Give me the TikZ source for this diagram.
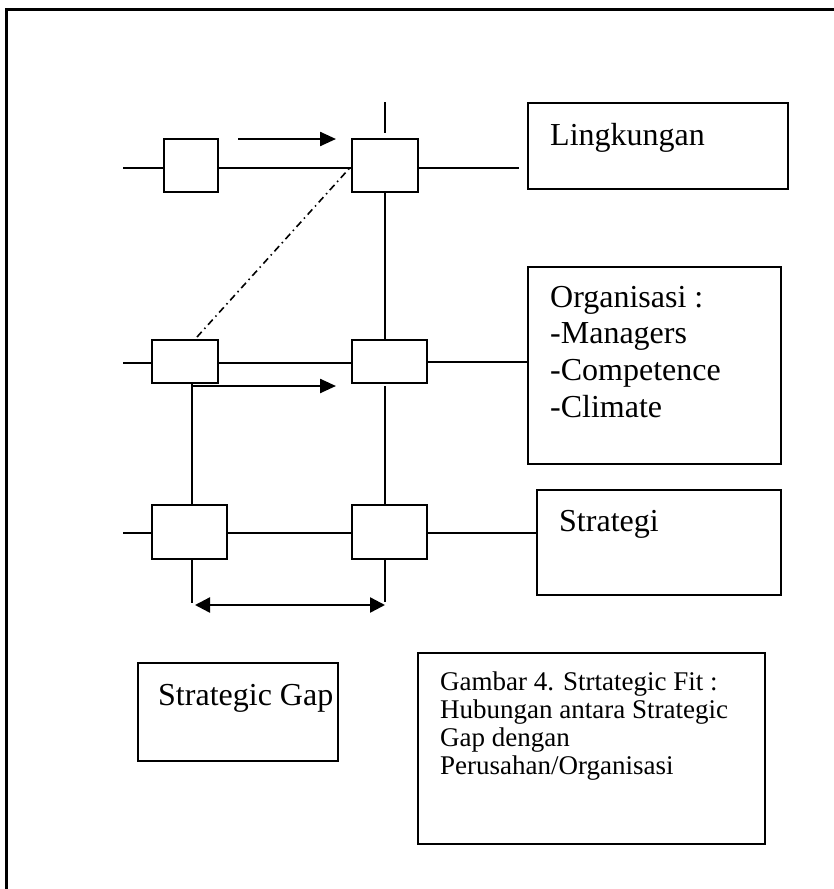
\documentclass[tikz,border=0pt]{standalone}
\usepackage{fontspec}
\setmainfont{Liberation Serif}
\usetikzlibrary{arrows.meta}
\begin{document}
\begin{tikzpicture}[x=1pt,y=-1pt,
  cell/.style={draw,line width=2pt,rectangle,inner sep=0pt,outer sep=0pt},
  panel/.style={draw,line width=2pt,rectangle,inner sep=0pt,outer sep=0pt},
  wire/.style={line width=2pt},
  big/.style={anchor=base west,inner sep=0pt,font=\fontsize{32pt}{36.7pt}\selectfont},
  small/.style={anchor=base west,inner sep=0pt,font=\fontsize{27pt}{30pt}\selectfont},
  flow/.style={line width=2.4pt,-{Triangle[length=16pt,width=14pt]}},
  gap/.style={line width=2.4pt,{Triangle[length=15pt,width=15pt]}-{Triangle[length=15pt,width=15pt]}},
  trace/.style={line width=1.6pt,dash pattern=on 7pt off 4pt on 1.5pt off 4pt}]

\useasboundingbox (0,0) rectangle (834,889);

% outer frame (top and left edges)
\draw[line width=3pt] (6,889) -- (6,9) -- (834,9);

% small cells of the grid
\node[cell,minimum width=54pt,minimum height=53pt] (A1) at (191,165.5) {};
\node[cell,minimum width=66pt,minimum height=53pt] (B1) at (385,165.5) {};
\node[cell,minimum width=66pt,minimum height=43pt] (A2) at (185,361.5) {};
\node[cell,minimum width=75pt,minimum height=43pt] (B2) at (389.5,361.5) {};
\node[cell,minimum width=75pt,minimum height=54pt] (A3) at (189.5,532) {};
\node[cell,minimum width=75pt,minimum height=54pt] (B3) at (389.5,532) {};

% labelled panels
\node[panel,minimum width=260pt,minimum height=86pt] (Ling) at (658,146) {};
\node[panel,minimum width=253pt,minimum height=197pt] (Org) at (654.5,365.5) {};
\node[panel,minimum width=244pt,minimum height=105pt] (Str) at (659,542.5) {};
\node[panel,minimum width=200pt,minimum height=98pt] (Gap) at (238,712) {};
\node[panel,minimum width=347pt,minimum height=191pt] (Gam) at (591.5,748.5) {};

\node[big] (tLing) at (550,145) {Lingkungan};
\node[big] (tOrg1) at (550,307) {Organisasi :};
\node[big] (tOrg2) at (550,343) {-Managers};
\node[big] (tOrg3) at (550,380) {-Competence};
\node[big] (tOrg4) at (550,417) {-Climate};
\node[big] (tStr) at (559,531) {Strategi};
\node[big] (tGap) at (158,705) {Strategic Gap};
\node[small] (tGam1) at (440,690) {Gambar 4. Strtategic Fit :};
\node[small] (tGam2) at (440,718) {Hubungan antara Strategic};
\node[small] (tGam3) at (440,746) {Gap dengan};
\node[small] (tGam4) at (440,774) {Perusahan/Organisasi};

% reference coordinates
\coordinate (c1) at (192,0);
\coordinate (c2) at (385,0);
\coordinate (r1) at (123,168);
\coordinate (r1e) at (519,168);
\coordinate (r2) at (123,363);
\coordinate (r3) at (123,533);
\coordinate (top) at (385,102);
\coordinate (topb) at (385,133);
\coordinate (lowA) at (192,603);
\coordinate (lowB) at (385,602);
\coordinate (f1s) at (238,139);
\coordinate (f1e) at (336,139);
\coordinate (f2s) at (192,386);
\coordinate (f2e) at (336,386);
\coordinate (g1) at (195,605);
\coordinate (g2) at (385,605);
\coordinate (dd) at (197,337);

% row 1
\draw[wire] (r1) -- (r1 -| A1.west);
\draw[wire] (r1 -| A1.east) -- (r1 -| B1.west);
\draw[wire] (r1 -| B1.east) -- (r1e);
\draw[wire] (top) -- (topb);

% row 2
\draw[wire] (r2) -- (r2 -| A2.west);
\draw[wire] (r2 -| A2.east) -- (r2 -| B2.west);
\draw[wire] (B2.east) -- (B2.east -| Org.west);

% row 3
\draw[wire] (r3) -- (r3 -| A3.west);
\draw[wire] (r3 -| A3.east) -- (r3 -| B3.west);
\draw[wire] (r3 -| B3.east) -- (r3 -| Str.west);

% verticals
\draw[wire] (c2 |- B1.south) -- (c2 |- B2.north);
\draw[wire] (c1 |- A2.south) -- (c1 |- A3.north);
\draw[wire] (c2 |- f2s) -- (c2 |- B3.north);
\draw[wire] (c1 |- A3.south) -- (lowA);
\draw[wire] (c2 |- B3.south) -- (lowB);

% arrows
\draw[flow] (f1s) -- (f1e);
\draw[flow] (f2s) -- (f2e);
\draw[gap] (g1) -- (g2);

% dash-dot link
\draw[trace] (dd) -- (B1.west);
\end{tikzpicture}
\end{document}
